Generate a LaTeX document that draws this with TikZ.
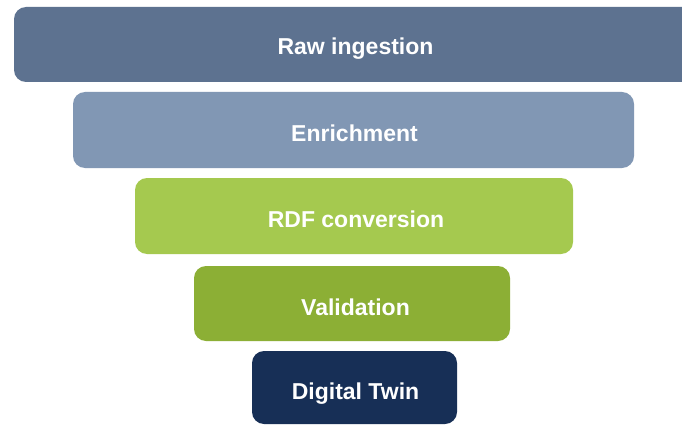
\documentclass[tikz,border=0pt]{standalone}
\usepackage{fontspec}
\setmainfont{Liberation Sans}
\definecolor{cA}{HTML}{5D7290}
\definecolor{cB}{HTML}{8197B4}
\definecolor{cC}{HTML}{A5C94F}
\definecolor{cD}{HTML}{8CAF35}
\definecolor{cE}{HTML}{172F56}
\tikzset{
  stage/.style={rounded corners=12pt, draw=none},
  lbl/.style={text=white, font=\fontsize{23}{26}\selectfont\bfseries, inner sep=0pt, anchor=base}
}
\begin{document}
\begin{tikzpicture}[x=1pt,y=-1pt]
\useasboundingbox (0,0) rectangle (682,425);
\fill[white] (0,0) rectangle (682,425);
\begin{scope}
\clip (0,0) rectangle (682,425);
\fill[stage, cA] (14,7) rectangle (696,82);
\end{scope}
\node[lbl] (s1) at (355.5,55) {Raw ingestion};
\fill[stage, cB] (73,92) rectangle (634,168);
\node[lbl] (s2) at (354.5,141) {Enrichment};
\fill[stage, cC] (135,178) rectangle (573,254);
\node[lbl] (s3) at (356,227) {RDF conversion};
\fill[stage, cD] (194,266) rectangle (510,341);
\node[lbl] (s4) at (355.5,315) {Validation};
\fill[stage, cE] (252,351) rectangle (457,424);
\node[lbl] (s5) at (355.5,399) {Digital Twin};
\end{tikzpicture}
\end{document}
